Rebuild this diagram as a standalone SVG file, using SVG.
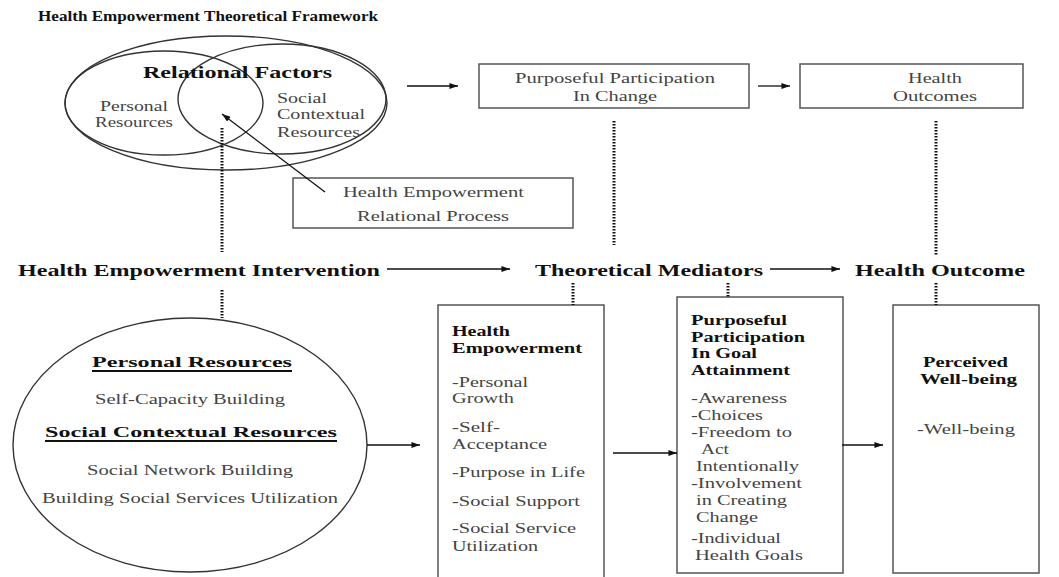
<svg xmlns="http://www.w3.org/2000/svg" width="1059" height="577" viewBox="0 0 1059 577">
<style>
text{font-family:"Liberation Serif","Times New Roman",serif;font-size:15px;fill:#444}
.b{font-weight:bold;fill:#111}
.lg{font-size:17px}
.box{fill:none;stroke:#555;stroke-width:1.5}
.ell{fill:none;stroke:#333;stroke-width:1.4}
.dot{stroke:#111;stroke-width:3;stroke-dasharray:1.5 1.5;fill:none}
.arr{stroke:#111;stroke-width:1.3;fill:none;marker-end:url(#ah)}
.ul{stroke:#111;stroke-width:2}
</style>
<defs>
<marker id="ah" viewBox="0 0 10 7" refX="10" refY="3.5" markerWidth="10" markerHeight="6" markerUnits="userSpaceOnUse" orient="auto"><path d="M0,0 L10,3.5 L0,7 z" fill="#111"/></marker>
</defs>
<rect width="1059" height="577" fill="#fff"/>
<text class="b" x="38" y="21" textLength="340" lengthAdjust="spacingAndGlyphs">Health Empowerment Theoretical Framework</text>

<g id="relational-factors">
<ellipse class="ell" cx="226" cy="103" rx="161" ry="67"/>
<ellipse class="ell" cx="164" cy="103" rx="99" ry="52"/>
<ellipse class="ell" cx="282" cy="99" rx="104" ry="55"/>
<text class="b lg" x="143" y="78" textLength="189" lengthAdjust="spacingAndGlyphs">Relational Factors</text>
<text x="100" y="111" textLength="68" lengthAdjust="spacingAndGlyphs">Personal</text>
<text x="95" y="127" textLength="78" lengthAdjust="spacingAndGlyphs">Resources</text>
<text x="277" y="103" textLength="50" lengthAdjust="spacingAndGlyphs">Social</text>
<text x="277" y="119" textLength="88" lengthAdjust="spacingAndGlyphs">Contextual</text>
<text x="277" y="137" textLength="83" lengthAdjust="spacingAndGlyphs">Resources</text>
</g>

<g id="ppic">
<rect class="box" x="479" y="64" width="270" height="44"/>
<text x="515" y="83" textLength="200" lengthAdjust="spacingAndGlyphs">Purposeful Participation</text>
<text x="573" y="101" textLength="84" lengthAdjust="spacingAndGlyphs">In Change</text>
</g>

<g id="health-outcomes">
<rect class="box" x="800" y="64" width="223" height="44"/>
<text x="908" y="83" textLength="54" lengthAdjust="spacingAndGlyphs">Health</text>
<text x="893" y="101" textLength="84" lengthAdjust="spacingAndGlyphs">Outcomes</text>
</g>

<g id="herp">
<rect class="box" x="293" y="178" width="280" height="50"/>
<text x="343" y="197" textLength="181" lengthAdjust="spacingAndGlyphs">Health Empowerment</text>
<text x="357" y="221" textLength="152" lengthAdjust="spacingAndGlyphs">Relational Process</text>
</g>

<g id="intervention-label"><text class="b lg" x="18" y="276" textLength="362" lengthAdjust="spacingAndGlyphs">Health Empowerment Intervention</text></g>
<g id="mediators-label"><text class="b lg" x="535" y="276" textLength="228" lengthAdjust="spacingAndGlyphs">Theoretical Mediators</text></g>
<g id="outcome-label"><text class="b lg" x="855" y="276" textLength="170" lengthAdjust="spacingAndGlyphs">Health Outcome</text></g>

<g id="resources-ellipse">
<ellipse class="ell" cx="190" cy="445" rx="177" ry="127"/>
<text class="b" x="92" y="367" font-size="16" textLength="200" lengthAdjust="spacingAndGlyphs">Personal Resources</text>
<line class="ul" x1="92" y1="371" x2="292" y2="371"/>
<text x="95" y="404" textLength="190" lengthAdjust="spacingAndGlyphs">Self-Capacity Building</text>
<text class="b" x="45" y="437" font-size="16" textLength="292" lengthAdjust="spacingAndGlyphs">Social Contextual Resources</text>
<line class="ul" x1="45" y1="441" x2="337" y2="441"/>
<text x="87" y="475" textLength="206" lengthAdjust="spacingAndGlyphs">Social Network Building</text>
<text x="42" y="503" textLength="296" lengthAdjust="spacingAndGlyphs">Building Social Services Utilization</text>
</g>

<g id="health-empowerment">
<path class="box" d="M438,577 V305 H604 V577"/>
<text class="b" x="452" y="336" textLength="58" lengthAdjust="spacingAndGlyphs">Health</text>
<text class="b" x="452" y="353" textLength="130" lengthAdjust="spacingAndGlyphs">Empowerment</text>
<text x="452" y="387" textLength="76" lengthAdjust="spacingAndGlyphs">-Personal</text>
<text x="452" y="403" textLength="62" lengthAdjust="spacingAndGlyphs">Growth</text>
<text x="452" y="432" textLength="48" lengthAdjust="spacingAndGlyphs">-Self-</text>
<text x="452" y="449" textLength="95" lengthAdjust="spacingAndGlyphs">Acceptance</text>
<text x="452" y="477" textLength="133" lengthAdjust="spacingAndGlyphs">-Purpose in Life</text>
<text x="452" y="506" textLength="128" lengthAdjust="spacingAndGlyphs">-Social Support</text>
<text x="452" y="533" textLength="124" lengthAdjust="spacingAndGlyphs">-Social Service</text>
<text x="452" y="551" textLength="86" lengthAdjust="spacingAndGlyphs">Utilization</text>
</g>

<g id="ppga">
<rect class="box" x="677" y="297" width="166" height="276"/>
<text class="b" x="691" y="325" textLength="96" lengthAdjust="spacingAndGlyphs">Purposeful</text>
<text class="b" x="691" y="342" textLength="114" lengthAdjust="spacingAndGlyphs">Participation</text>
<text class="b" x="691" y="358" textLength="66" lengthAdjust="spacingAndGlyphs">In Goal</text>
<text class="b" x="691" y="375" textLength="99" lengthAdjust="spacingAndGlyphs">Attainment</text>
<text x="691" y="403" textLength="96" lengthAdjust="spacingAndGlyphs">-Awareness</text>
<text x="691" y="420" textLength="72" lengthAdjust="spacingAndGlyphs">-Choices</text>
<text x="691" y="437" textLength="101" lengthAdjust="spacingAndGlyphs">-Freedom to</text>
<text x="701" y="454" textLength="28" lengthAdjust="spacingAndGlyphs">Act</text>
<text x="696" y="471" textLength="103" lengthAdjust="spacingAndGlyphs">Intentionally</text>
<text x="691" y="488" textLength="111" lengthAdjust="spacingAndGlyphs">-Involvement</text>
<text x="696" y="505" textLength="91" lengthAdjust="spacingAndGlyphs">in Creating</text>
<text x="696" y="522" textLength="62" lengthAdjust="spacingAndGlyphs">Change</text>
<text x="691" y="543" textLength="90" lengthAdjust="spacingAndGlyphs">-Individual</text>
<text x="695" y="560" textLength="108" lengthAdjust="spacingAndGlyphs">Health Goals</text>
</g>

<g id="pwb">
<rect class="box" x="893" y="305" width="146" height="268"/>
<text class="b" x="923" y="367" textLength="85" lengthAdjust="spacingAndGlyphs">Perceived</text>
<text class="b" x="920" y="384" textLength="97" lengthAdjust="spacingAndGlyphs">Well-being</text>
<text x="917" y="434" textLength="98" lengthAdjust="spacingAndGlyphs">-Well-being</text>
</g>

<g id="connectors">
<line class="arr" x1="407" y1="86" x2="458" y2="86"/>
<line class="arr" x1="758" y1="86" x2="790" y2="86"/>
<line class="arr" x1="325" y1="192" x2="222" y2="114"/>
<line class="arr" x1="387" y1="269" x2="510" y2="269"/>
<line class="arr" x1="770" y1="269" x2="840" y2="269"/>
<line class="arr" x1="367" y1="445" x2="420" y2="445"/>
<line class="arr" x1="613" y1="453" x2="677" y2="453"/>
<line class="arr" x1="842" y1="445" x2="883" y2="445"/>
<line class="dot" x1="222" y1="128" x2="222" y2="252"/>
<line class="dot" x1="222" y1="290" x2="222" y2="318"/>
<line class="dot" x1="614" y1="121" x2="614" y2="245"/>
<line class="dot" x1="936" y1="121" x2="936" y2="255"/>
<line class="dot" x1="573" y1="283" x2="573" y2="305"/>
<line class="dot" x1="728" y1="283" x2="728" y2="297"/>
<line class="dot" x1="936" y1="283" x2="936" y2="305"/>
</g>
</svg>
